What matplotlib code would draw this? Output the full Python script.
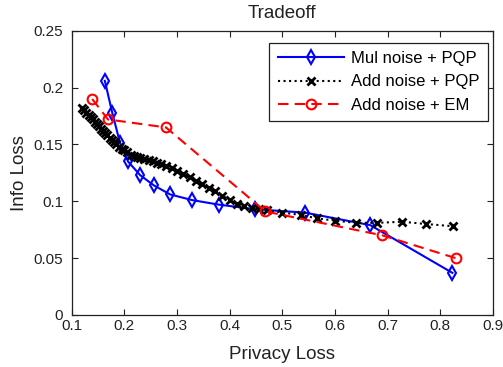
import matplotlib.pyplot as plt

plt.rcParams['font.family'] = ['Liberation Sans', 'DejaVu Sans']

# Mul noise + PQP
mul_x = [0.163, 0.177, 0.192, 0.207, 0.230, 0.256, 0.287, 0.329, 0.380, 0.448, 0.543, 0.667, 0.823]
mul_y = [0.206, 0.178, 0.151, 0.135, 0.123, 0.114, 0.106, 0.101, 0.097, 0.093, 0.090, 0.079, 0.037]

# Add noise + PQP
add_x = [0.120, 0.124, 0.128, 0.132, 0.136, 0.140, 0.144, 0.148, 0.152, 0.156,
         0.160, 0.164, 0.168, 0.172, 0.176, 0.180, 0.185, 0.190, 0.195, 0.200,
         0.206, 0.212, 0.218, 0.224, 0.230, 0.238, 0.246, 0.254, 0.262, 0.270,
         0.280, 0.290, 0.300, 0.312, 0.324, 0.336, 0.348, 0.360, 0.372, 0.386,
         0.400, 0.414, 0.428, 0.442, 0.456, 0.470, 0.500, 0.535, 0.565, 0.600,
         0.640, 0.680, 0.728, 0.772, 0.825]
add_y = [0.182, 0.180, 0.178, 0.176, 0.174, 0.172, 0.170, 0.168, 0.166, 0.164,
         0.162, 0.160, 0.158, 0.156, 0.154, 0.152, 0.150, 0.148, 0.146, 0.145,
         0.143, 0.141, 0.140, 0.139, 0.138, 0.137, 0.136, 0.135, 0.134, 0.133,
         0.131, 0.129, 0.127, 0.124, 0.121, 0.118, 0.115, 0.112, 0.109, 0.105,
         0.101, 0.098, 0.096, 0.094, 0.093, 0.092, 0.090, 0.088, 0.085, 0.083,
         0.081, 0.081, 0.082, 0.080, 0.078]

# Add noise + EM
em_x = [0.139, 0.169, 0.279, 0.468, 0.690, 0.829]
em_y = [0.190, 0.172, 0.165, 0.091, 0.070, 0.050]

xticks = [0.1, 0.2, 0.3, 0.4, 0.5, 0.6, 0.7, 0.8, 0.9]
yticks = [0, 0.05, 0.1, 0.15, 0.2, 0.25]

fig = plt.figure(figsize=(5.03, 3.67), dpi=100)
ax = fig.add_axes([0.1425, 0.142, 0.8375, 0.774])

ax.plot(mul_x, mul_y, color='#0000ff', linewidth=1.5, marker='d', markersize=7,
        markerfacecolor='none', markeredgewidth=1.5, label='Mul noise + PQP')
ax.plot(add_x, add_y, color='black', linestyle=':', linewidth=1.5, marker='x',
        markersize=5.5, markeredgewidth=2, label='Add noise + PQP')
ax.plot(em_x, em_y, color='#ff0000', linestyle='--', linewidth=1.5, dashes=(5, 3),
        marker='o', markersize=7, markerfacecolor='none', markeredgewidth=1.5,
        label='Add noise + EM')

ax.set_xlim(0.1, 0.9)
ax.set_ylim(0, 0.25)
ax.set_xticks(xticks)
ax.set_yticks(yticks)
ax.set_xticklabels(['0.1', '0.2', '0.3', '0.4', '0.5', '0.6', '0.7', '0.8', '0.9'])
ax.set_yticklabels(['0', '0.05', '0.1', '0.15', '0.2', '0.25'])
ax.tick_params(direction='in', top=True, right=True, length=4, labelsize=11,
               colors='#222222', pad=3)
ax.tick_params(axis='y', pad=6)
for s in ax.spines.values():
    s.set_color('#222222')
    s.set_linewidth(0.9)

ax.set_xlabel('Privacy Loss', fontsize=13.5, color='#222222', labelpad=9)
ax.set_ylabel('Info Loss', fontsize=13.5, color='#222222', labelpad=4)
ax.set_title('Tradeoff', fontsize=13.5, color='#222222', pad=9)

leg = ax.legend(loc='upper right', bbox_to_anchor=(0.988, 0.958), borderaxespad=0,
                fontsize=12, fancybox=False, edgecolor='#222222', framealpha=1,
                handlelength=4.0, handletextpad=0.4, borderpad=0.5,
                labelspacing=0.5)
leg.get_frame().set_linewidth(0.9)

fig.savefig('out.png', dpi=100)
